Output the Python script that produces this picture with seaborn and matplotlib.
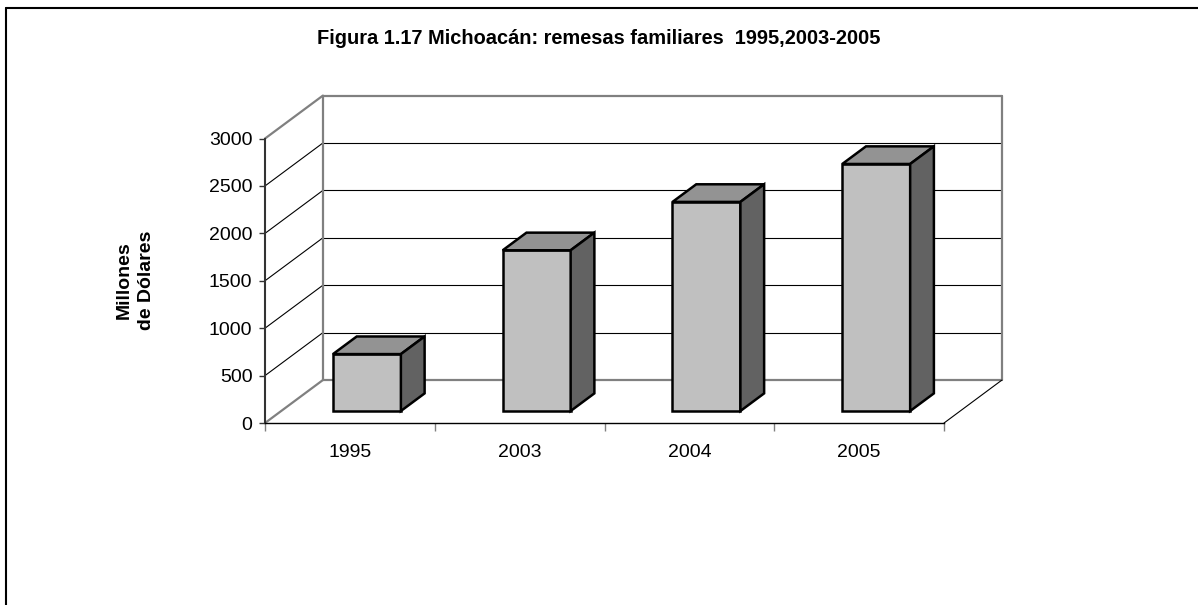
import matplotlib
matplotlib.use('Agg')
import matplotlib.pyplot as plt
from matplotlib.patches import Polygon
from matplotlib.lines import Line2D
import pandas as pd
import seaborn as sns

# datos
anios = ['1995', '2003', '2004', '2005']
remesas = [600, 1695, 2205, 2605]
marcas_y = [0, 500, 1000, 1500, 2000, 2500, 3000]

titulo = 'Figura 1.17 Michoacán: remesas familiares  1995,2003-2005'
etiqueta_y = 'Millones\nde Dólares'

sns.set_style('white')
plt.rcParams['font.family'] = ['Liberation Sans', 'DejaVu Sans']
plt.rcParams['text.color'] = 'black'
plt.rcParams['axes.labelcolor'] = 'black'

df = pd.DataFrame({'anio': anios, 'remesas': remesas})

# profundidad del efecto 3D (unidades de datos)
DX, DY = 0.341, 453
d0, d1 = 0.28, 0.69
gris = '#808080'

fig = plt.figure(figsize=(11.98, 6.05), dpi=100)
ax = fig.add_axes([0.2212, 0.3008, 0.6164, 0.5423])

# pared del fondo y pared izquierda
x0, x1 = -0.5, len(anios) - 0.5
for v in marcas_y:
    grueso = v in (marcas_y[0], marcas_y[-1])
    c, lw = (gris, 1.6) if grueso else ('black', 0.8)
    ax.plot([x0 + DX, x1 + DX], [v + DY, v + DY], color=c, lw=lw, clip_on=False, zorder=1)
    ax.plot([x0, x0 + DX], [v, v + DY], color=c, lw=lw, clip_on=False, zorder=1)
ax.plot([x0 + DX, x0 + DX], [DY, marcas_y[-1] + DY], color=gris, lw=1.6, clip_on=False, zorder=1)
ax.plot([x1 + DX, x1 + DX], [DY, marcas_y[-1] + DY], color=gris, lw=1.6, clip_on=False, zorder=1)
ax.plot([x1, x1 + DX], [0, DY], color='black', lw=0.8, clip_on=False, zorder=1)

# barras (cara frontal)
sns.barplot(data=df, x='anio', y='remesas', color='#c0c0c0', saturation=1,
            width=0.4, edgecolor='black', linewidth=1.8, ax=ax, zorder=3)

fx, fy = d0 * DX + 0.005, d0 * DY
bdx, bdy = (d1 - d0) * DX, (d1 - d0) * DY
for p in ax.patches:
    p.set_x(p.get_x() + fx)
    p.set_y(p.get_y() + fy)
    p.set_joinstyle('miter')
    a, b = p.get_x(), p.get_x() + p.get_width()
    y0, y1 = p.get_y(), p.get_y() + p.get_height()
    tapa = Polygon([(a, y1), (b, y1), (b + bdx, y1 + bdy), (a + bdx, y1 + bdy)],
                   closed=True, fc='#939393', ec='black', lw=1.8, zorder=3)
    lado = Polygon([(b, y0), (b + bdx, y0 + bdy), (b + bdx, y1 + bdy), (b, y1)],
                   closed=True, fc='#626262', ec='black', lw=1.8, zorder=3)
    ax.add_patch(tapa)
    ax.add_patch(lado)

ax.set_xlim(x0, 3.85)
ax.set_ylim(0, 3460)

sns.despine(ax=ax, top=True, right=True)
ax.spines['left'].set_bounds(0, marcas_y[-1])
ax.spines['left'].set_color('#333333')
ax.spines['left'].set_linewidth(1.5)
ax.spines['bottom'].set_bounds(x0, x1)
ax.spines['bottom'].set_color('black')
ax.spines['bottom'].set_linewidth(1.0)

ax.set_yticks(marcas_y)
ax.set_yticklabels([str(v) for v in marcas_y], fontsize=14)
ax.tick_params(axis='y', direction='out', length=4, width=1, color='#333333',
               labelcolor='black', pad=5, left=True)

ax.set_xticks([i - 0.5 for i in range(len(anios) + 1)])
ax.set_xticklabels([''] * (len(anios) + 1))
ax.set_xticks(range(len(anios)), minor=True)
ax.set_xticklabels(anios, minor=True, fontsize=14)
ax.tick_params(axis='x', which='major', direction='out', length=6, width=1, color=gris, bottom=True)
ax.tick_params(axis='x', which='minor', length=0, pad=15, labelcolor='black')

ax.set_xlabel('')
ax.set_ylabel(etiqueta_y, fontsize=14, fontweight='bold', multialignment='center', linespacing=1.4)
ax.yaxis.set_label_coords(-0.149, 0.436)

fig.text(0.5, 1 - 39 / 605, titulo, ha='center', va='center', fontsize=14.4, fontweight='bold')

# marco exterior
fig.add_artist(Line2D([6 / 1198, 1], [1 - 8 / 605] * 2, transform=fig.transFigure, color='black', lw=1.5))
fig.add_artist(Line2D([6 / 1198] * 2, [0, 1 - 8 / 605], transform=fig.transFigure, color='black', lw=1.5))

fig.savefig('out.png', dpi=100)
